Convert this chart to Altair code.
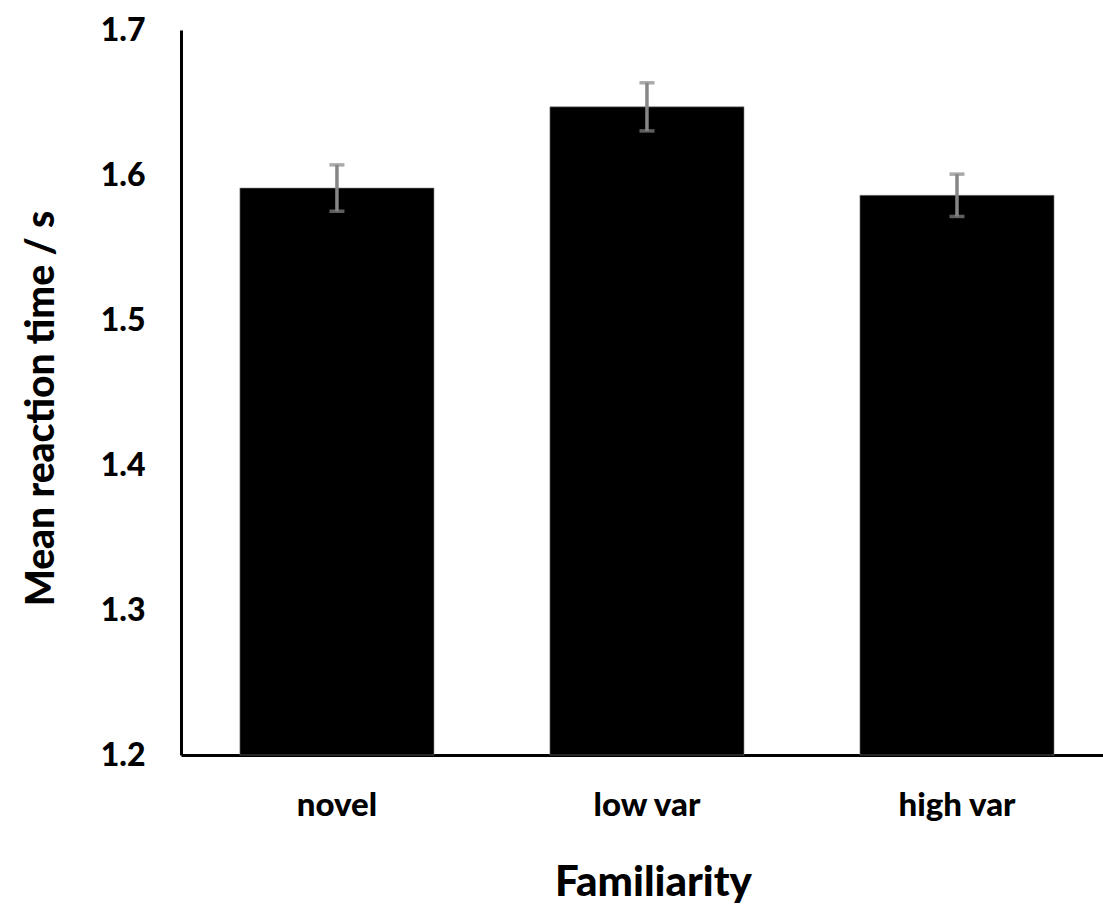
import altair as alt
import pandas as pd

categories = ["novel", "low var", "high var"]
means = [1.591, 1.647, 1.586]
errors = [0.016, 0.0166, 0.0146]

df = pd.DataFrame({
    "Familiarity": categories,
    "mean": means,
    "lo": [m - e for m, e in zip(means, errors)],
    "hi": [m + e for m, e in zip(means, errors)],
    "base": [1.2] * len(categories),
})

FONT = "Lato"
WEIGHT = 900

x_enc = alt.X(
    "Familiarity:N",
    sort=categories,
    scale=alt.Scale(paddingInner=0.374, paddingOuter=0.174, align=0.546),
    axis=alt.Axis(
        title="Familiarity",
        labelAngle=0,
        labelFont=FONT,
        labelFontSize=33,
        labelFontWeight=WEIGHT,
        labelColor="black",
        labelBaseline="alphabetic",
        labelPadding=60,
        ticks=False,
        tickSize=0,
        domainColor="black",
        domainWidth=3,
        titleFont=FONT,
        titleFontSize=42,
        titleFontWeight=WEIGHT,
        titleColor="black",
        titleBaseline="alphabetic",
        titleX=472,
        titleY=140,
        titleAlign="center",
    ),
)

y_scale = alt.Scale(domain=[1.2, 1.7], nice=False, zero=False)

bars = alt.Chart(df).mark_bar(color="black", stroke="#7f7f7f", strokeWidth=0.6).encode(
    x=x_enc,
    y=alt.Y(
        "mean:Q",
        scale=y_scale,
        axis=alt.Axis(
            title="Mean reaction time / s",
            values=[1.2, 1.3, 1.4, 1.5, 1.6, 1.7],
            format=".1f",
            labelFont=FONT,
            labelFontSize=32,
            labelFontWeight=WEIGHT,
            labelColor="black",
            labelPadding=36,
            ticks=False,
            tickSize=0,
            grid=False,
            domainColor="black",
            domainWidth=3,
            titleFont=FONT,
            titleFontSize=39,
            titleFontWeight=WEIGHT,
            titleColor="black",
            titleAngle=270,
            titleBaseline="middle",
            titleAlign="center",
            titleX=-140,
            titleY=378,
        ),
    ),
    y2="base:Q",
)

rules = alt.Chart(df).mark_rule(color="#868686", strokeWidth=3.5).encode(
    x=alt.X("Familiarity:N", sort=categories),
    y=alt.Y("lo:Q", scale=y_scale),
    y2="hi:Q",
)

caps_hi = alt.Chart(df).mark_tick(color="#868686", size=15, thickness=3.5).encode(
    x=alt.X("Familiarity:N", sort=categories),
    y=alt.Y("hi:Q", scale=y_scale),
)
caps_lo = alt.Chart(df).mark_tick(color="#868686", size=15, thickness=3.5).encode(
    x=alt.X("Familiarity:N", sort=categories),
    y=alt.Y("lo:Q", scale=y_scale),
)

chart = alt.layer(bars, rules, caps_hi, caps_lo).properties(
    width=922,
    height=725,
    autosize=alt.AutoSizeParams(type="none"),
    padding={"left": 181, "top": 30, "right": 0, "bottom": 151},
    background="white",
).configure_view(stroke=None)

chart.save("out.html", embed_options={"renderer": "svg", "actions": False})
